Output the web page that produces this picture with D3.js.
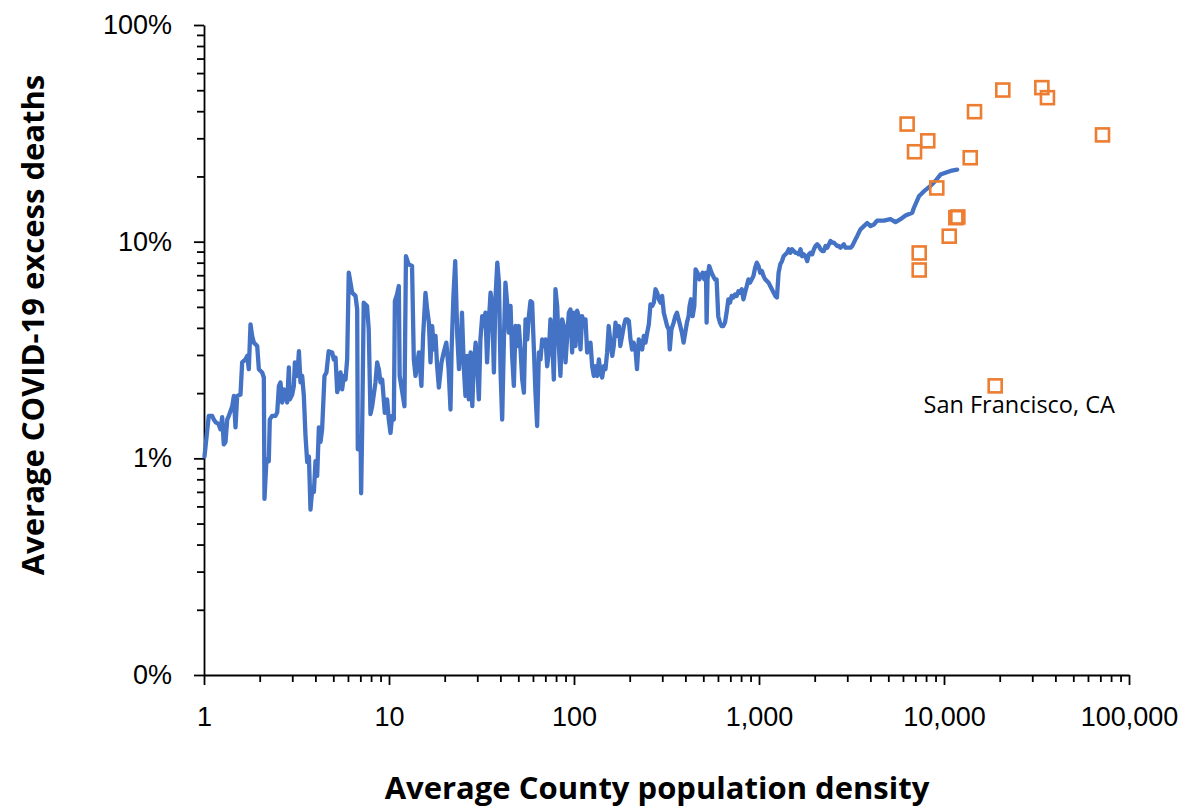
<!DOCTYPE html>
<html>
<head>
<meta charset="utf-8">
<script src="https://cdn.jsdelivr.net/npm/d3@7"></script>
<style>
  html, body { margin: 0; padding: 0; background: #fff; }
  svg { display: block; font-family: "Open Sans", "Liberation Sans", sans-serif; }
  .axis path, .axis line { stroke: #000; stroke-width: 1.8; }
  .axis text { fill: #000; font-size: 27px; }
</style>
</head>
<body>
<svg id="chart" width="1186" height="810"></svg>
<script>
// ---- Data ----
const lineDensity = [
  1.006, 1.061, 1.107, 1.130, 1.154, 1.198, 1.228, 1.254, 1.279, 1.307,
  1.335, 1.362, 1.421, 1.450, 1.480, 1.511, 1.575, 1.608, 1.676, 1.712,
  1.747, 1.784, 1.821, 1.859, 1.939, 1.979, 2.063, 2.106, 2.123, 2.176,
  2.240, 2.268, 2.334, 2.435, 2.488, 2.540, 2.591, 2.646, 2.701, 2.757,
  2.816, 2.875, 2.912, 2.998, 3.060, 3.099, 3.194, 3.259, 3.324, 3.394,
  3.465, 3.537, 3.613, 3.691, 3.764, 3.845, 3.927, 4.006, 4.09, 4.178,
  4.263, 4.35, 4.48, 4.59, 4.72, 4.93, 5.03, 5.14, 5.25, 5.36,
  5.47, 5.58, 5.70, 5.82, 5.94, 6.06, 6.19, 6.32, 6.59, 6.73,
  6.78, 7.02, 7.07, 7.16, 7.30, 7.61, 7.77, 7.94, 8.11, 8.45,
  8.63, 8.81, 9.00, 9.19, 9.49, 9.77, 9.97, 10.19, 10.40, 10.62,
  10.76, 11.05, 11.30, 11.42, 11.73, 12.12, 12.35, 12.77, 13.32, 13.62,
  13.91, 14.50, 14.97, 15.29, 15.75, 16.08, 16.43, 16.76, 17.12, 17.47,
  17.84, 18.21, 18.60, 19.22, 19.75, 20.41, 21.0, 21.5, 21.8, 22.3,
  22.8, 23.4, 23.9, 24.5, 24.8, 25.4, 25.9, 26.4, 27.0, 27.6,
  28.2, 28.7, 29.4, 30.0, 30.6, 31.2, 31.9, 32.6, 33.2, 33.9,
  34.7, 35.4, 36.1, 36.9, 37.6, 38.5, 39.3, 40.1, 40.9, 41.8,
  42.6, 43.5, 44.4, 45.4, 46.3, 47.3, 48.3, 49.3, 50.3, 51.4,
  52.5, 53.6, 54.7, 55.9, 57.0, 58.2, 59.4, 60.7, 61.9, 63.2,
  64.6, 65.9, 67.3, 68.7, 70.2, 71.6, 73.1, 74.6, 76.2, 77.8,
  79.4, 81.1, 82.8, 84.5, 86.3, 88.1, 90.0, 91.9, 93.8, 95.7,
  97.7, 99.8, 101.9, 104, 106, 108.4, 110.7, 113, 115.4, 117.8,
  120.3, 122.8, 125.4, 128, 130.7, 133.5, 136.3, 139.1, 142, 145,
  148, 151, 154, 157.5, 161, 164, 167.6, 171, 175, 178,
  182, 186, 190, 194, 198, 202, 206, 210, 215, 219,
  224, 228.8, 233.6, 238.5, 243.5, 248.6, 253.8, 259.1, 264.6, 270,
  275.7, 281.5, 287.3, 293.3, 299.5, 305.7, 312.1, 318.6, 325.2, 329.4,
  336.3, 345.6, 352.8, 360.2, 367.7, 375.4, 383.2, 391.2, 399.4, 407.8,
  416.3, 421.5, 429, 438, 447, 454, 465, 476, 486, 496,
  506, 517, 521, 527, 538, 554, 565, 577, 590, 602,
  615, 628, 641, 655, 668, 683, 697, 712, 727, 742,
  758, 774, 790, 807, 824, 841, 859, 877, 895, 914,
  933, 953, 973, 994, 1015, 1036, 1058, 1080, 1103, 1126,
  1150, 1174, 1199, 1224, 1250, 1276, 1303, 1331, 1359, 1388,
  1417, 1447, 1478, 1509, 1541, 1574, 1607, 1641, 1676, 1711,
  1748, 1784, 1822, 1861, 1898, 1939, 1980, 2020, 2063, 2106,
  2150, 2196, 2242, 2288, 2337, 2386, 2436, 2487, 2540, 2591,
  2646, 2701, 2757, 2816, 2875, 2935, 2997, 3125, 3191, 3258,
  3324, 3394, 3465, 3537, 3691, 3845, 4009, 4178, 4350, 4730,
  5134, 5469, 5820, 6194, 6730, 6870, 7320, 7800, 8460, 9000,
  9570, 10180, 10840, 11780
];
// excess deaths, percent
const lineExcess = [
  1.02, 1.57, 1.57, 1.51, 1.47, 1.44, 1.36, 1.55, 1.16, 1.19,
  1.51, 1.57, 1.74, 1.94, 1.39, 1.94, 1.97, 2.77, 2.86, 2.97,
  2.58, 4.15, 3.67, 3.42, 3.30, 2.58, 2.49, 2.36, 0.65, 0.99,
  0.97, 1.51, 1.57, 1.57, 1.63, 2.16, 2.24, 1.81, 2.08, 1.94,
  1.81, 2.63, 1.87, 1.97, 2.16, 2.77, 2.40, 3.12, 2.24, 2.40,
  1.94, 1.27, 0.96, 1.02, 0.58, 0.72, 0.70, 0.97, 0.83, 1.39,
  1.19, 1.36, 2.40, 2.49, 3.12, 3.08, 2.86, 2.92, 2.02, 2.16,
  2.49, 2.08, 2.40, 2.31, 2.86, 7.19, 6.47, 5.82, 5.62, 4.87,
  1.10, 1.27, 0.69, 1.36, 5.23, 5.05, 3.94, 1.60, 1.74, 2.24,
  2.77, 2.58, 2.24, 2.31, 1.62, 1.87, 1.51, 1.31, 1.57, 1.51,
  5.32, 5.71, 6.24, 2.40, 2.08, 1.74, 8.57, 7.86, 7.72, 2.86,
  2.40, 3.08, 2.16, 3.67, 5.80, 4.87, 4.23, 2.77, 4.08, 3.18,
  3.67, 2.66, 2.12, 2.77, 3.08, 3.42, 2.58, 1.68, 3.18, 5.62,
  8.13, 3.67, 2.58, 3.54, 4.70, 2.58, 1.94, 2.97, 1.87, 3.08,
  1.74, 2.66, 3.42, 2.66, 1.87, 3.54, 4.53, 4.08, 4.70, 2.77,
  4.38, 5.82, 5.05, 2.49, 5.42, 8.00, 6.47, 2.49, 1.51, 3.54,
  6.47, 5.23, 3.80, 5.05, 2.97, 2.16, 4.08, 3.30, 4.08, 3.18,
  2.31, 2.01, 4.38, 3.54, 4.53, 5.32, 5.23, 3.18, 2.01, 1.41,
  3.08, 2.86, 3.54, 3.30, 3.54, 2.66, 3.08, 4.38, 3.54, 2.31,
  6.03, 5.05, 3.30, 2.40, 4.38, 4.08, 2.77, 3.67, 4.70, 4.87,
  3.08, 4.70, 3.30, 4.80, 4.53, 3.18, 4.53, 4.08, 4.38, 3.08,
  3.30, 3.42, 2.66, 2.40, 2.66, 2.40, 2.86, 2.49, 2.36, 2.66,
  2.58, 3.08, 4.08, 3.42, 2.97, 3.30, 4.23, 3.67, 4.08, 3.30,
  3.67, 4.08, 4.38, 4.38, 4.30, 3.54, 3.18, 3.42, 3.18, 2.58,
  3.54, 3.42, 3.18, 3.67, 3.42, 3.80, 4.15, 5.14, 5.05, 5.23,
  6.03, 5.82, 5.42, 5.23, 5.62, 4.70, 4.38, 4.08, 3.94, 3.18,
  3.94, 4.23, 4.53, 4.70, 4.38, 4.08, 3.80, 3.42, 3.80, 4.23,
  4.53, 5.05, 5.42, 4.53, 5.05, 7.45, 7.19, 6.70, 6.94, 7.19,
  6.70, 7.19, 4.23, 6.70, 7.72, 7.19, 6.94, 6.70, 6.70, 4.53,
  4.23, 4.08, 4.08, 4.23, 4.70, 5.42, 5.23, 5.62, 5.52, 5.71,
  5.62, 5.91, 5.82, 6.03, 5.42, 5.82, 6.24, 6.70, 6.47, 6.70,
  6.94, 7.58, 8.00, 7.72, 7.19, 7.32, 6.94, 6.70, 6.59, 6.47,
  6.24, 6.03, 5.82, 5.62, 5.52, 7.19, 7.86, 8.13, 8.57, 8.74,
  8.88, 9.22, 8.88, 9.22, 9.05, 8.88, 8.88, 8.74, 9.22, 8.57,
  8.74, 8.57, 8.13, 8.74, 8.88, 8.74, 9.22, 9.55, 9.72, 9.55,
  9.22, 9.05, 9.05, 9.55, 9.38, 9.72, 10.07, 9.90, 9.90, 9.72,
  9.55, 9.55, 9.38, 9.55, 9.72, 9.38, 9.38, 9.38, 9.55, 9.90,
  10.25, 10.6, 11.0, 11.4, 11.8, 12.2, 11.8, 12.0, 12.5, 12.5,
  12.7, 12.3, 12.7, 13.2, 13.6, 14.3, 16.2, 17.1, 18.1, 19.1,
  20.4, 20.8, 21.2, 21.5
];

// individual high-density counties
const cityDensity = [6320, 8170, 6930, 14620, 20790, 33800, 36240, 71900, 13860, 9140, 11590, 11880, 10670, 7345, 7345, 18910];
const cityExcess  = [34.9, 29.2, 26.0, 39.8, 50.1, 51.4, 46.2, 31.1, 24.4, 17.7, 12.9, 13.0, 10.6, 8.87, 7.40, 2.16];
const cityLabels  = ["", "", "", "", "", "", "", "", "", "", "", "", "", "", "", "San Francisco, CA"];

const xTickValues = [1, 10, 100, 1000, 10000, 100000];
const xTickLabels = ["1", "10", "100", "1,000", "10,000", "100,000"];
const yTickValues = [0.1, 1, 10, 100];
const yTickLabels = ["0%", "1%", "10%", "100%"];

const xTitle = "Average County population density";
const yTitle = "Average COVID-19 excess deaths";

// ---- Layout ----
const svg = d3.select("#chart");
const plotLeft = 204, plotRight = 1129, plotTop = 25, plotBottom = 675;

const x = d3.scaleLog().domain([1, 100000]).range([plotLeft, plotRight]);
const y = d3.scaleLog().domain([0.1, 100]).range([plotBottom, plotTop]);

function minorTicks(domainTicks) {
  const out = [];
  for (let i = 0; i < domainTicks.length - 1; i++) {
    for (let m = 2; m <= 9; m++) out.push(domainTicks[i] * m);
  }
  return out;
}

// minor ticks
svg.append("g").attr("class", "axis")
  .attr("transform", `translate(0,${plotBottom})`)
  .call(d3.axisBottom(x).tickValues(minorTicks(xTickValues)).tickSize(7).tickFormat(""))
  .call(g => g.select(".domain").remove());
svg.append("g").attr("class", "axis")
  .attr("transform", `translate(${plotLeft},0)`)
  .call(d3.axisLeft(y).tickValues(minorTicks(yTickValues)).tickSize(7).tickFormat(""))
  .call(g => g.select(".domain").remove());

// major axes
svg.append("g").attr("class", "axis")
  .attr("transform", `translate(0,${plotBottom})`)
  .call(d3.axisBottom(x).tickValues(xTickValues).tickSizeInner(10).tickSizeOuter(0)
        .tickPadding(22).tickFormat((d, i) => xTickLabels[i]));
svg.append("g").attr("class", "axis")
  .attr("transform", `translate(${plotLeft},0)`)
  .call(d3.axisLeft(y).tickValues(yTickValues).tickSizeInner(10).tickSizeOuter(0)
        .tickPadding(22).tickFormat((d, i) => yTickLabels[i]));

// line series
const lineData = lineDensity.map((d, i) => [d, lineExcess[i]]).filter(p => p[1] !== undefined);
svg.append("path")
  .datum(lineData)
  .attr("fill", "none")
  .attr("stroke", "#4472C4")
  .attr("stroke-width", 4.3)
  .attr("stroke-linejoin", "round")
  .attr("stroke-linecap", "round")
  .attr("d", d3.line().x(d => x(d[0])).y(d => y(d[1])));

// city markers
const cities = cityDensity.map((d, i) => ({ d, v: cityExcess[i], label: cityLabels[i] }));
const sq = 13;
svg.append("g").selectAll("rect")
  .data(cities).join("rect")
  .attr("x", c => x(c.d) - sq / 2)
  .attr("y", c => y(c.v) - sq / 2)
  .attr("width", sq).attr("height", sq)
  .attr("fill", "none")
  .attr("stroke", "#ED7D31")
  .attr("stroke-width", 2.6);

svg.append("g").selectAll("text")
  .data(cities.filter(c => c.label)).join("text")
  .attr("x", c => x(c.d) + 24)
  .attr("y", c => y(c.v) + 27)
  .attr("text-anchor", "middle")
  .attr("font-size", 23.5)
  .attr("fill", "#000")
  .text(c => c.label);

// axis titles
svg.append("text")
  .attr("x", 657)
  .attr("y", 799)
  .attr("text-anchor", "middle")
  .attr("font-size", 31)
  .attr("font-weight", "bold")
  .attr("fill", "#000")
  .text(xTitle);

svg.append("text")
  .attr("transform", "translate(44,325) rotate(-90)")
  .attr("text-anchor", "middle")
  .attr("font-size", 31)
  .attr("font-weight", "bold")
  .attr("fill", "#000")
  .text(yTitle);
</script>
</body>
</html>
